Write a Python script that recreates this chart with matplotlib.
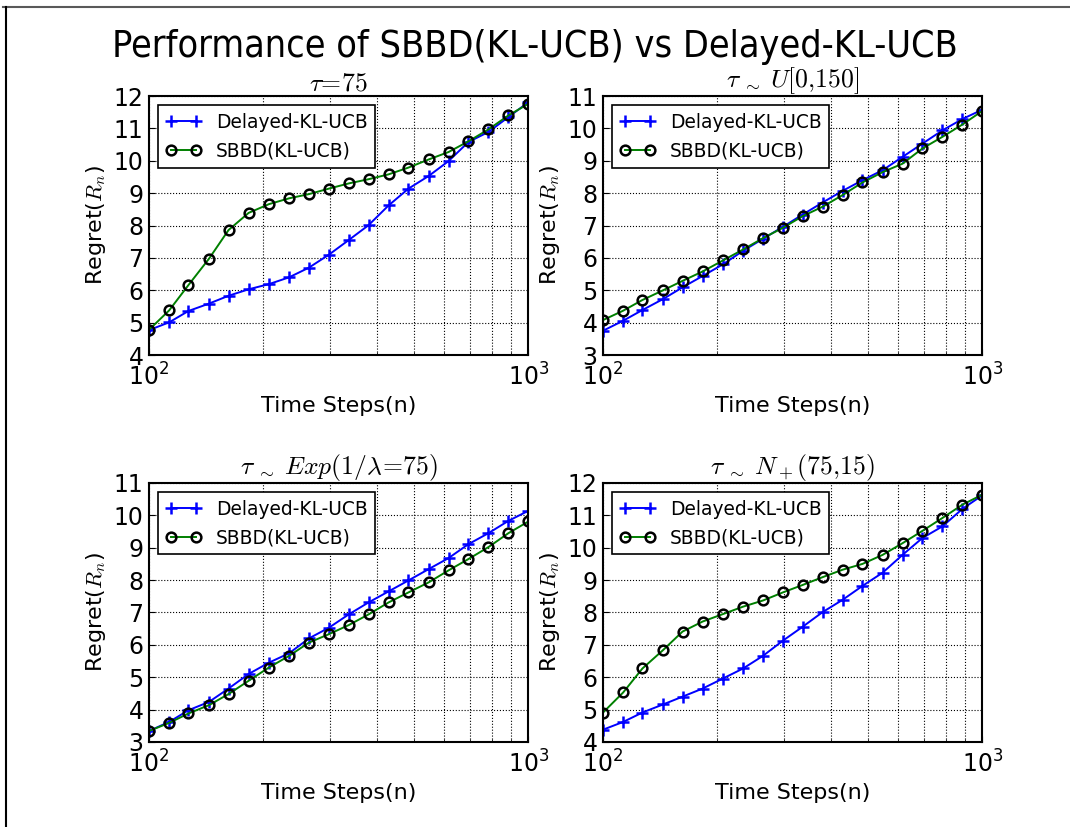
import matplotlib
matplotlib.use("Agg")
import matplotlib.pyplot as plt
from matplotlib.lines import Line2D
from matplotlib.ticker import NullFormatter

# time steps (log-spaced) shared by all panels
steps = [100, 113, 127, 144, 162, 183, 207, 234, 264, 298,
         336, 379, 428, 483, 546, 616, 695, 785, 886, 1000]

# tau = 75
fixed_delayed = [4.77, 5.01, 5.36, 5.59, 5.83, 6.03, 6.19, 6.40, 6.70, 7.10,
                 7.55, 8.01, 8.62, 9.14, 9.53, 9.99, 10.58, 10.89, 11.35, 11.81]
fixed_sbbd = [4.78, 5.38, 6.16, 6.98, 7.86, 8.39, 8.66, 8.84, 8.97, 9.14,
              9.30, 9.43, 9.58, 9.79, 10.04, 10.27, 10.60, 10.97, 11.40, 11.76]

# tau ~ U[0,150]
unif_delayed = [3.75, 4.06, 4.39, 4.73, 5.09, 5.44, 5.80, 6.22, 6.59, 6.96,
                7.34, 7.71, 8.07, 8.40, 8.71, 9.12, 9.53, 9.94, 10.29, 10.58]
unif_sbbd = [4.08, 4.37, 4.70, 5.00, 5.29, 5.58, 5.92, 6.26, 6.61, 6.93,
             7.29, 7.58, 7.94, 8.33, 8.65, 8.91, 9.38, 9.74, 10.12, 10.54]

# tau ~ Exp(1/lambda=75)
exp_delayed = [3.34, 3.62, 3.98, 4.24, 4.65, 5.10, 5.45, 5.74, 6.20, 6.53,
               6.94, 7.31, 7.65, 7.99, 8.34, 8.68, 9.11, 9.45, 9.83, 10.14]
exp_sbbd = [3.34, 3.59, 3.88, 4.14, 4.48, 4.89, 5.30, 5.66, 6.07, 6.33,
            6.61, 6.94, 7.31, 7.62, 7.93, 8.30, 8.65, 9.02, 9.45, 9.81]

# tau ~ N+(75,15)
norm_delayed = [4.38, 4.62, 4.91, 5.16, 5.40, 5.65, 5.96, 6.27, 6.66, 7.13,
                7.56, 8.01, 8.39, 8.82, 9.23, 9.78, 10.30, 10.66, 11.20, 11.62]
norm_sbbd = [4.91, 5.53, 6.27, 6.84, 7.41, 7.72, 7.95, 8.18, 8.37, 8.62,
             8.85, 9.09, 9.32, 9.50, 9.78, 10.14, 10.52, 10.92, 11.33, 11.64]

titles = [r"$\tau\!=\!75$",
          r"$\tau\,{}_{\sim}\;U[0{,}150]$",
          r"$\tau\,{}_{\sim}\;Exp(1/\lambda\!=\!75)$",
          r"$\tau\,{}_{\sim}\;N_+(75{,}15)$"]
ylims = [(4, 12), (3, 11), (3, 11), (4, 12)]

plt.rcParams.update({
    "mathtext.fontset": "cm",
    "xtick.direction": "in",
    "ytick.direction": "in",
    "xtick.major.size": 4,
    "ytick.major.size": 4,
    "xtick.minor.size": 2,
    "xtick.major.pad": 6,
    "ytick.major.pad": 4,
    "axes.linewidth": 1.5,
})

fig = plt.figure(figsize=(10.7, 8.27), dpi=100)
fig.suptitle("Performance of SBBD(KL-UCB) vs Delayed-KL-UCB", fontsize=27,
             y=0.943, va="center", fontstretch="condensed")

boxes = [(0.1393, 0.5707), (0.5636, 0.5707), (0.1393, 0.1028), (0.5636, 0.1028)]
panels = [(fixed_delayed, fixed_sbbd), (unif_delayed, unif_sbbd),
          (exp_delayed, exp_sbbd), (norm_delayed, norm_sbbd)]

for (x0, y0), (dly, sbbd), title, ylim in zip(boxes, panels, titles, ylims):
    ax = fig.add_axes([x0, y0, 0.3545, 0.3132])
    ax.plot(steps, dly, color="blue", marker="+", ms=9, mew=1.8, lw=1.4,
            label="Delayed-KL-UCB")
    ax.plot(steps, sbbd, color="green", marker="o", ms=7, mew=1.8, lw=1.4,
            mfc="none", mec="black", label="SBBD(KL-UCB)")
    ax.set_xscale("log")
    ax.set_xlim(100, 1000)
    ax.set_ylim(*ylim)
    ax.set_yticks(range(ylim[0], ylim[1] + 1))
    ax.xaxis.set_minor_formatter(NullFormatter())
    ax.grid(True, which="both", axis="x", color="k", ls=":", lw=0.8)
    ax.grid(True, which="major", axis="y", color="k", ls=":", lw=0.8)
    ax.tick_params(labelsize=17)
    ax.set_title(title, fontsize=18.5, pad=4)
    ax.set_xlabel("Time Steps(n)", fontsize=16)
    ax.set_ylabel(r"Regret($R_n$)", fontsize=16)
    leg = ax.legend(loc="upper left", fontsize=13.4, numpoints=2, fancybox=False,
                    framealpha=1, borderaxespad=0.5, handletextpad=0.8,
                    handlelength=1.9)
    leg.get_frame().set_edgecolor("black")
    leg.get_frame().set_linewidth(1.2)

# frame lines along the top and left edge of the page
fig.add_artist(Line2D([0.003, 1.0], [0.9915, 0.9915], color="0.35", lw=1.5))
fig.add_artist(Line2D([0.0056, 0.0056], [0.0, 0.9915], color="black", lw=1.5))

fig.savefig("out.png", dpi=100)
